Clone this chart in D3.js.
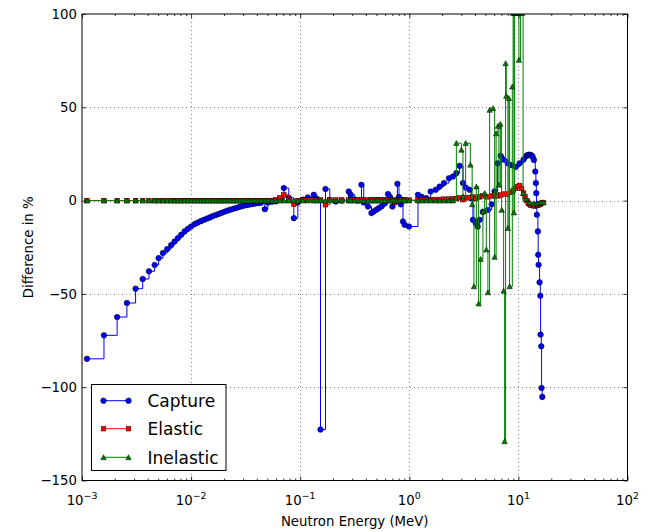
<!DOCTYPE html>
<html>
<head>
<meta charset="utf-8">
<script src="https://cdn.jsdelivr.net/npm/d3@7"></script>
<style>
body { margin: 0; background: #fff; }
text { font-family: "DejaVu Sans", sans-serif; fill: #000; }
</style>
</head>
<body>
<div id="chart"></div>
<script>
// common energy grid (MeV) shared by the three reactions below ~2.5 MeV
var gridE = [
    1.11e-3, 1.59e-3, 2.10e-3, 2.58e-3, 3.10e-3, 3.60e-3, 4.11e-3, 4.63e-3, 5.04e-3, 5.52e-3,
    6.04e-3, 6.57e-3, 7.06e-3, 7.57e-3, 8.11e-3, 8.72e-3, 9.35e-3, 1.00e-2, 1.08e-2, 1.15e-2,
    1.23e-2, 1.31e-2, 1.40e-2, 1.49e-2, 1.58e-2, 1.69e-2, 1.80e-2, 1.91e-2, 2.04e-2, 2.17e-2,
    2.31e-2, 2.47e-2, 2.63e-2, 2.80e-2, 2.98e-2, 3.18e-2, 3.38e-2, 3.60e-2, 3.84e-2, 4.09e-2,
    4.36e-2, 4.74e-2, 5.05e-2, 5.50e-2, 5.98e-2, 6.51e-2, 7.08e-2, 7.86e-2, 8.74e-2, 9.51e-2,
    0.1056, 0.1174, 0.1332, 0.1419, 0.1535, 0.1705, 0.1867, 0.2118, 0.2404, 0.2787,
    0.2906, 0.3162, 0.3369, 0.3643, 0.3823, 0.4185, 0.4498, 0.4721, 0.4997, 0.5278,
    0.5589, 0.5953, 0.6382, 0.6615, 0.7002, 0.7350, 0.7780, 0.8045, 0.8340, 0.8756,
    0.9075, 0.9938, 1.2015, 1.299, 1.434, 1.570, 1.745, 1.898, 2.079, 2.310,
    2.513
];

var captureLow = [
    -84.8, -72.2, -62.4, -54.9, -47.2, -42.0, -37.9, -34.5, -30.8, -28.1,
    -26.0, -23.8, -21.9, -20.1, -18.3, -16.5, -15.1, -13.9, -12.6, -11.8,
    -11.0, -10.3, -9.6, -9.0, -8.3, -7.7, -7.1, -6.5, -5.9, -5.3,
    -4.8, -4.3, -3.8, -3.3, -2.9, -2.5, -2.2, -1.9, -1.6, -1.4,
    -1.2, -4.6, -1.0, -0.6, -0.4, 0.5, 6.7, 1.5, -9.4, -1.0,
    0.5, 1.7, 3.1, 1.0, -122.7, 6.2, 0.3, -0.5, 0.0, 4.9,
    3.1, 0.5, 0.0, 8.5, -1.0, -3.2, -6.7, -5.8, -4.9, -4.0,
    -3.0, -1.5, 3.5, 2.2, -3.2, -0.5, 9.0, 1.9, -2.0, -11.2,
    -13.0, -13.9, 3.1, 2.0, 1.3, 4.9, 5.8, 7.5, 9.4, 12.0,
    12.9
];

var elasticLow = [
    0, 0, 0, 0, 0, 0, 0, 0, 0, 0,
    0, 0, 0, 0, 0, 0, 0, 0, 0, 0,
    0, 0, 0, 0, 0, 0, 0, 0, 0, 0,
    0, 0, 0, 0, 0, 0, 0, 0, 0, 0,
    0, 0, 0, 0, 0.5, 1.5, 3.1, 0.5, -1.9, 0,
    0.3, 0.3, 0.3, 0.3, 0.3, -2.2, 0.3, 0.3, 0.3, 0.3,
    0.3, 0.3, 0.3, 0.3, 0.3, 0.3, 0.3, 0.3, 0.3, 0.3,
    0.3, 0.3, 0.3, 0.3, 0.3, -1.0, 0.3, 0.3, 0.3, 0.3,
    0.3, 0.3, 0.5, 0.5, 0.5, 0.5, 0.6, 0.6, 0.8, 0.8,
    1.0
];

var inelasticLow = [
    0, 0, 0, 0, 0, 0, 0, 0, 0, 0,
    0, 0, 0, 0, 0, 0, 0, 0, 0, 0,
    0, 0, 0, 0, 0, 0, 0, 0, 0, 0,
    0, 0, 0, 0, 0, 0, 0, 0, 0, 0,
    0, 0, 0, 0, 0, 0, 0, 0, 0, 0,
    0, 0, 0, 0, 0, 0, 0, 0, 0, 0,
    0, 0, 0, 0, 0, 0, 0, 0, 0, 0,
    0, 0, 0, 0, 0, 0, 0, 0, 0, 0,
    0, 0, 0, 0, 0, 0, 0, 0, 0, 0,
    0
];

// above ~2.5 MeV each reaction has its own points [MeV, %]
var captureHigh = [
    [2.700, 14.7], [2.894, 18.6], [3.103, 9.4], [3.285, 7.0], [3.573, 5.8], [3.704, 1.3],
    [3.830, -10.3], [4.056, -12.0], [4.231, -14.0], [4.413, -10.3], [4.730, -6.0], [5.256, -5.0],
    [5.683, -2.0], [6.055, 5.0], [6.450, 20.0], [6.871, 24.0], [7.319, 22.0], [7.963, 20.0],
    [8.663, 19.0], [9.427, 18.0], [10.26, 20.0], [11.16, 22.0], [11.89, 24.0], [12.0, 24.2],
    [12.3, 24.5], [12.66, 24.6], [13.0, 24.4], [13.3, 24.0], [13.49, 23.5], [13.87, 21.8],
    [14.28, 15.6], [14.47, 9.4], [14.58, 4.0], [14.68, -2.2], [14.77, -7.6], [15.09, -16.5],
    [15.18, -29.0], [15.31, -34.4], [15.64, -43.8], [15.87, -51.0], [15.97, -71.8], [16.21, -78.1],
    [16.31, -100.4], [16.55, -105.2]
];

var elasticHigh = [
    [2.700, 1.0], [2.894, 1.5], [3.103, 0.5], [3.285, 1.5], [3.573, 1.5], [3.830, 2.0],
    [4.056, 1.0], [4.413, 2.0], [4.730, 2.5], [5.256, 2.0], [5.683, 2.5], [6.055, 3.0],
    [6.450, 2.5], [6.871, 3.0], [7.319, 3.5], [7.963, 3.5], [8.663, 4.5], [9.0, 5.5],
    [9.427, 6.5], [9.8, 7.5], [10.26, 8.0], [10.7, 6.5], [11.16, 4.0], [11.5, 2.0],
    [11.89, 0.0], [12.3, -1.5], [12.66, -2.0], [13.0, -2.5], [13.49, -2.5], [13.87, -2.8],
    [14.28, -2.8], [14.68, -2.5], [15.09, -2.5], [15.5, -2.2], [15.87, -2.0], [16.21, -1.5],
    [16.55, -1.2], [16.9, -1.0]
];

var inelasticHigh = [
    [2.700, 30.8], [3.000, 27.2], [3.103, 2.2], [3.285, 30.8], [3.627, 19.2], [3.767, -2.0],
    [3.913, -46.0], [4.117, 7.5], [4.321, -55.2], [4.507, -31.3], [4.730, -5.8], [4.903, 4.0],
    [5.082, -26.3], [5.256, -49.2], [5.448, 48.6], [5.842, 49.5], [6.055, -30.2], [6.249, 36.0],
    [6.491, 40.0], [6.628, 8.5], [6.827, 41.1], [7.018, -5.0], [7.319, -48.3], [7.474, -129.0],
    [7.634, 73.6], [7.747, 56.1], [8.012, -14.7], [8.185, 54.9], [8.307, -46.0], [8.795, 61.1],
    [8.945, 100.5], [9.097, -6.4], [9.232, 100.5], [9.527, 100.5], [9.833, 100.5], [10.11, 75.4],
    [10.47, 100.5], [10.81, 100.5], [11.04, 4.0], [11.64, 1.0], [12.66, -1.0], [13.78, -1.5],
    [14.99, -1.5], [15.97, -1.0], [17.01, -1.0]
];

var xTicks = [1e-3, 1e-2, 1e-1, 1e0, 1e1, 1e2];
var xTickExp = ["\u22123", "\u22122", "\u22121", "0", "1", "2"];
var yTicks = [-150, -100, -50, 0, 50, 100];

var seriesNames = ["Capture", "Elastic", "Inelastic"];
var seriesColors = ["#0000ff", "#ff0000", "#008000"];

(function() {
var width = 652, height = 532;
var plotL = 82, plotR = 627.5, plotT = 14, plotB = 480.5;

function join(low, high) {
    return gridE.map(function(e, i) { return [e, low[i]]; }).concat(high);
}
var seriesData = [
    join(captureLow, captureHigh),
    join(elasticLow, elasticHigh),
    join(inelasticLow, inelasticHigh)
];

var svg = d3.select("#chart").append("svg")
    .attr("width", width)
    .attr("height", height);

var x = d3.scaleLog().domain([1e-3, 1e2]).range([plotL, plotR]);
var y = d3.scaleLinear().domain([-150, 100]).range([plotB, plotT]);

svg.append("defs").append("clipPath").attr("id", "plotclip")
    .append("rect")
    .attr("x", plotL).attr("y", plotT)
    .attr("width", plotR - plotL).attr("height", plotB - plotT);

// dotted grid
var grid = svg.append("g")
    .attr("stroke", "#000")
    .attr("stroke-width", 0.8)
    .attr("stroke-dasharray", "1,3")
    .attr("opacity", 0.6);
grid.selectAll(".gx").data(xTicks.slice(1, -1)).enter().append("line")
    .attr("x1", function(d) { return Math.round(x(d)) + 0.5; })
    .attr("x2", function(d) { return Math.round(x(d)) + 0.5; })
    .attr("y1", plotT).attr("y2", plotB);
grid.selectAll(".gy").data(yTicks.slice(1, -1)).enter().append("line")
    .attr("y1", function(d) { return Math.round(y(d)) + 0.5; })
    .attr("y2", function(d) { return Math.round(y(d)) + 0.5; })
    .attr("x1", plotL).attr("x2", plotR);

// series
var plot = svg.append("g").attr("clip-path", "url(#plotclip)");
var line = d3.line()
    .x(function(d) { return x(d[0]); })
    .y(function(d) { return y(d[1]); })
    .curve(d3.curveStepAfter);

function marker(sel, k) {
    if (k === 0) {
        sel.append("circle").attr("r", 2.8);
    } else if (k === 1) {
        sel.append("rect").attr("x", -2.3).attr("y", -2.3).attr("width", 4.6).attr("height", 4.6);
    } else {
        sel.append("path").attr("d", "M0,-2.6L2.7,2.4L-2.7,2.4Z");
    }
}

seriesData.forEach(function(data, k) {
    plot.append("path")
        .datum(data)
        .attr("fill", "none")
        .attr("stroke", seriesColors[k])
        .attr("stroke-width", 1)
        .attr("d", line);
    var g = plot.append("g")
        .attr("fill", seriesColors[k])
        .attr("stroke", "#000")
        .attr("stroke-width", 0.5);
    g.selectAll("g").data(data).enter().append("g")
        .attr("transform", function(d) { return "translate(" + x(d[0]) + "," + y(d[1]) + ")"; })
        .each(function() { marker(d3.select(this), k); });
});

// ticks (inside, all four sides)
var minor = x.ticks().filter(function(d) { return xTicks.indexOf(d) < 0; });
function tickStyle(g) {
    g.select(".domain").remove();
    g.selectAll("text").remove();
    g.selectAll("line").attr("stroke", "#000").attr("stroke-width", 0.8);
}
svg.append("g").attr("transform", "translate(0," + plotB + ")")
    .call(d3.axisBottom(x).tickValues(xTicks).tickSize(-4)).call(tickStyle);
svg.append("g").attr("transform", "translate(0," + plotB + ")")
    .call(d3.axisBottom(x).tickValues(minor).tickSize(-2)).call(tickStyle);
svg.append("g").attr("transform", "translate(0," + plotT + ")")
    .call(d3.axisTop(x).tickValues(xTicks).tickSize(-4)).call(tickStyle);
svg.append("g").attr("transform", "translate(0," + plotT + ")")
    .call(d3.axisTop(x).tickValues(minor).tickSize(-2)).call(tickStyle);
svg.append("g").attr("transform", "translate(" + plotL + ",0)")
    .call(d3.axisLeft(y).tickValues(yTicks).tickSize(-4)).call(tickStyle);
svg.append("g").attr("transform", "translate(" + plotR + ",0)")
    .call(d3.axisRight(y).tickValues(yTicks).tickSize(-4)).call(tickStyle);

// frame
svg.append("rect")
    .attr("x", plotL).attr("y", plotT)
    .attr("width", plotR - plotL).attr("height", plotB - plotT)
    .attr("fill", "none").attr("stroke", "#000").attr("stroke-width", 1);

// tick labels
svg.selectAll(".ylab").data(yTicks).enter().append("text")
    .attr("x", plotL - 5)
    .attr("y", function(d) { return y(d) + 4.8; })
    .attr("text-anchor", "end")
    .style("font-size", "13.3px")
    .text(function(d) { return d < 0 ? "\u2212" + Math.abs(d) : d; });

var xl = svg.selectAll(".xlab").data(xTicks).enter().append("text")
    .attr("x", function(d) { return x(d); })
    .attr("y", 505)
    .attr("text-anchor", "middle")
    .style("font-size", "13.3px");
xl.append("tspan").text("10");
xl.append("tspan")
    .attr("dy", -6)
    .style("font-size", "9.4px")
    .text(function(d, i) { return xTickExp[i]; });

// axis titles
svg.append("text")
    .attr("x", (plotL + plotR) / 2)
    .attr("y", 526)
    .attr("text-anchor", "middle")
    .style("font-size", "13.3px")
    .text("Neutron Energy (MeV)");
svg.append("text")
    .attr("transform", "translate(33," + (plotT + plotB) / 2 + ") rotate(-90)")
    .attr("text-anchor", "middle")
    .style("font-size", "13.3px")
    .text("Difference in %");

// legend
var legend = svg.append("g");
legend.append("rect")
    .attr("x", 91.5).attr("y", 384.5)
    .attr("width", 134.5).attr("height", 86)
    .attr("fill", "#fff").attr("stroke", "#000").attr("stroke-width", 1);
var rows = [400.7, 428.7, 457.3];
seriesNames.forEach(function(name, k) {
    var ry = rows[k];
    legend.append("line")
        .attr("x1", 103.5).attr("x2", 128.5)
        .attr("y1", ry).attr("y2", ry)
        .attr("stroke", seriesColors[k]).attr("stroke-width", 1);
    var mg = legend.append("g")
        .attr("fill", seriesColors[k]).attr("stroke", "#000").attr("stroke-width", 0.5);
    [103.5, 128.5].forEach(function(px) {
        var m = mg.append("g").attr("transform", "translate(" + px + "," + ry + ")");
        marker(m, k);
    });
    legend.append("text")
        .attr("x", 147.5)
        .attr("y", ry + 6.4)
        .style("font-size", "17px")
        .text(name);
});
})();
</script>
</body>
</html>
